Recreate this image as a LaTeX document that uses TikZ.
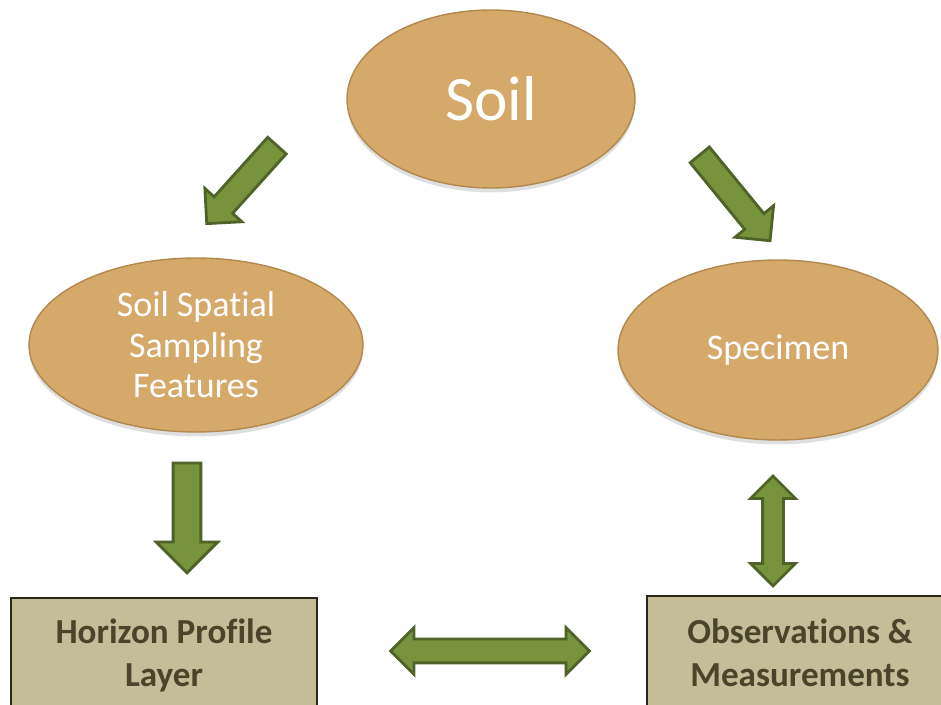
\documentclass[tikz,border=0pt]{standalone}
\usepackage{fontspec}
\setmainfont{Carlito}[Ligatures=NoCommon]
\usetikzlibrary{shapes.geometric,shapes.arrows,shadows}

\definecolor{soiltan}{RGB}{212,169,106}
\definecolor{soilrim}{RGB}{178,136,78}
\definecolor{boxtan}{RGB}{196,189,151}
\definecolor{boxtext}{RGB}{74,69,42}
\definecolor{arrowfill}{RGB}{119,147,60}
\definecolor{arrowline}{RGB}{79,98,40}

\begin{document}
\begin{tikzpicture}[x=0.02cm,y=-0.02cm,
        blob/.style={ellipse,fill=soiltan,draw=soilrim,line width=0.8pt,
            drop shadow={opacity=0.25,shadow xshift=0pt,shadow yshift=-2.5pt},
            text=white,align=center,font=\fontsize{20.5}{23}\selectfont,inner sep=0pt},
        layerbox/.style={rectangle,fill=boxtan,draw={rgb,255:red,40;green,38;blue,25},
            line width=1.1pt,minimum width=6.12cm,minimum height=2.28cm,
            text=boxtext,align=center,font=\bfseries\fontsize{20}{24.5}\selectfont},
        fatarrow/.style={single arrow,fill=arrowfill,draw=arrowline,line width=1.6pt,
            inner sep=0pt,text depth=0pt,single arrow head indent=0pt},
        fatdouble/.style={double arrow,fill=arrowfill,draw=arrowline,line width=1.6pt,
            inner sep=0pt,text depth=0pt,double arrow head indent=0pt}]
            \useasboundingbox (0,0) rectangle (941,705);
            \clip (0,0) rectangle (941,705);

            \node[blob,minimum width=5.76cm,minimum height=3.56cm,
                font=\fontsize{36}{40}\selectfont] (soil) at (491,99) {Soil};
            \node[blob,minimum width=6.68cm,minimum height=3.48cm] (ssf) at (196,345)
                {Soil Spatial\\Sampling\\Features};
            \node[blob,minimum width=6.4cm,minimum height=3.6cm] (spec) at (778,350) {Specimen};

            \node[layerbox] (hpl) at (164,655) {Horizon Profile\\Layer};
            \node[layerbox] (om) at (800,653) {Observations \&\\Measurements};

            % block arrows
            \node[fatarrow,rotate=228,minimum height=2.1cm,text height=0.44cm,
                single arrow head extend=0.25cm] (soil-ssf) at (246,180) {};
            \node[fatarrow,rotate=-50.7,minimum height=2.22cm,text height=0.44cm,
                single arrow head extend=0.25cm] (soil-spec) at (731,193) {};
            \node[fatarrow,rotate=-90,minimum height=2.2cm,text height=0.5cm,
                single arrow head extend=0.34cm] (ssf-hpl) at (187,511) {};
            \node[fatdouble,rotate=90,minimum height=2.2cm,text height=0.36cm,
                double arrow head extend=0.24cm] (spec-om) at (773,531) {};
            \node[fatdouble,minimum height=3.98cm,text height=0.42cm,
                double arrow head extend=0.23cm] (hpl-om) at (490,651) {};
        \end{tikzpicture}
\end{document}
